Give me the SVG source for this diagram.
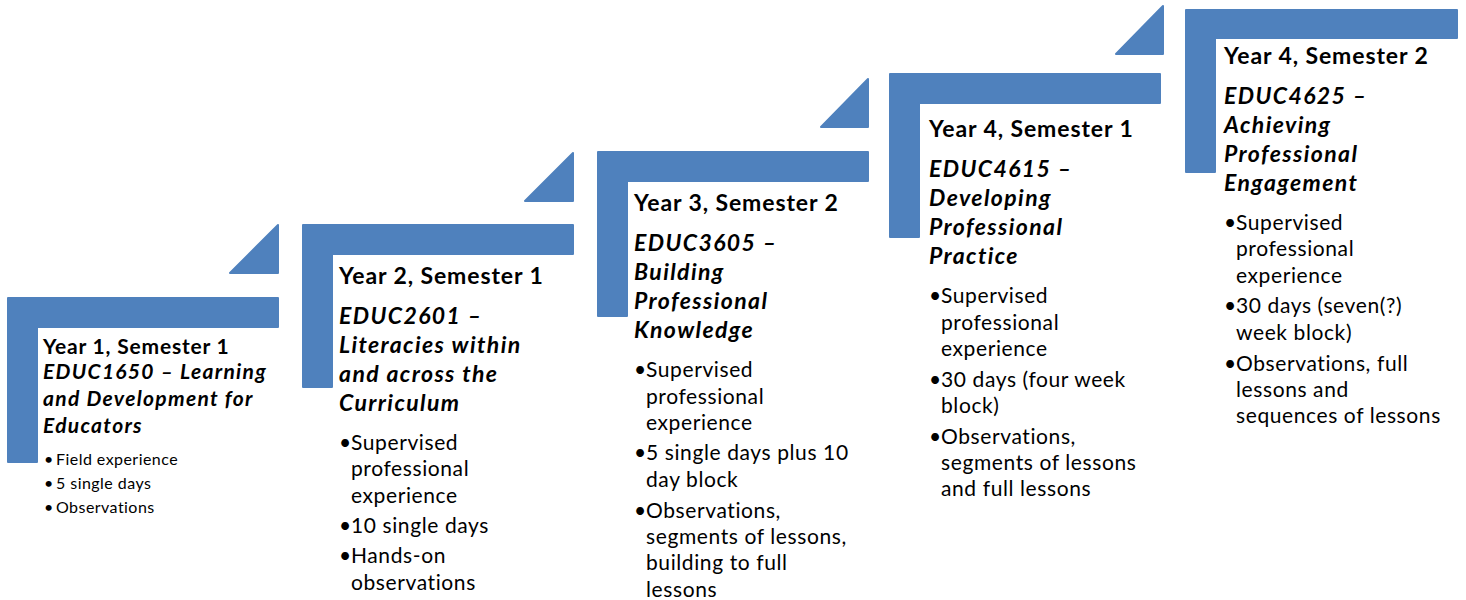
<svg xmlns="http://www.w3.org/2000/svg" width="1466" height="600" viewBox="0 0 1466 600">
<style>
.shape{fill:#4F81BD;stroke:#4F81BD;stroke-width:2;stroke-linejoin:round}
text{font-family:Lato,"Open Sans","Liberation Sans",sans-serif;fill:#000}
.h{font-size:23px;font-weight:bold;letter-spacing:0.9px}
.i{font-size:23px;font-weight:bold;font-style:italic;letter-spacing:1.4px}
.b{font-size:21px;letter-spacing:0.6px}
.h1{font-size:21px;font-weight:bold;letter-spacing:0.8px}
.i1{font-size:21px;font-weight:bold;font-style:italic;letter-spacing:1.3px}
.b1{font-size:16px;letter-spacing:0.45px}
</style>
<rect width="1466" height="600" fill="#fff"/>
<g id="step1">
<path class="shape" d="M8,298 H278 V327 H37 V462 H8 Z"/>
<path class="shape" d="M230,273 L278,225 V273 Z"/>
<text class="h1" x="43" y="354">Year 1, Semester 1</text>
<text class="i1" x="43" y="379">EDUC1650 – Learning</text>
<text class="i1" x="43" y="406">and Development for</text>
<text class="i1" x="43" y="433">Educators</text>
<text class="b1" x="44" y="465">•</text><text class="b1" x="56" y="465">Field experience</text>
<text class="b1" x="44" y="489">•</text><text class="b1" x="56" y="489">5 single days</text>
<text class="b1" x="44" y="513">•</text><text class="b1" x="56" y="513">Observations</text>
</g>
<g id="step2">
<path class="shape" d="M303,225 H573 V254 H332 V387 H303 Z"/>
<path class="shape" d="M525,201 L573,153 V201 Z"/>
<text class="h" x="339" y="284">Year 2, Semester 1</text>
<text class="i" x="339" y="324">EDUC2601 –</text>
<text class="i" x="339" y="353">Literacies within</text>
<text class="i" x="339" y="382">and across the</text>
<text class="i" x="339" y="411">Curriculum</text>
<text class="b" x="339" y="450">•</text><text class="b" x="351" y="450">Supervised</text>
<text class="b" x="351" y="476">professional</text>
<text class="b" x="351" y="503">experience</text>
<text class="b" x="339" y="533">•</text><text class="b" x="351" y="533">10 single days</text>
<text class="b" x="339" y="563">•</text><text class="b" x="351" y="563">Hands-on</text>
<text class="b" x="351" y="590">observations</text>
</g>
<g id="step3">
<path class="shape" d="M598,152 H868 V181 H627 V316 H598 Z"/>
<path class="shape" d="M821,127 L868,79 V127 Z"/>
<text class="h" x="634" y="211">Year 3, Semester 2</text>
<text class="i" x="634" y="251">EDUC3605 –</text>
<text class="i" x="634" y="280">Building</text>
<text class="i" x="634" y="309">Professional</text>
<text class="i" x="634" y="338">Knowledge</text>
<text class="b" x="634" y="377">•</text><text class="b" x="646" y="377">Supervised</text>
<text class="b" x="646" y="404">professional</text>
<text class="b" x="646" y="430">experience</text>
<text class="b" x="634" y="460">•</text><text class="b" x="646" y="460">5 single days plus 10</text>
<text class="b" x="646" y="487">day block</text>
<text class="b" x="634" y="518">•</text><text class="b" x="646" y="518">Observations,</text>
<text class="b" x="646" y="544">segments of lessons,</text>
<text class="b" x="646" y="570">building to full</text>
<text class="b" x="646" y="597">lessons</text>
</g>
<g id="step4">
<path class="shape" d="M890,74 H1160 V103 H919 V237 H890 Z"/>
<path class="shape" d="M1116,54 L1163,6 V54 Z"/>
<text class="h" x="929" y="137">Year 4, Semester 1</text>
<text class="i" x="929" y="177">EDUC4615 –</text>
<text class="i" x="929" y="206">Developing</text>
<text class="i" x="929" y="235">Professional</text>
<text class="i" x="929" y="264">Practice</text>
<text class="b" x="929" y="303">•</text><text class="b" x="941" y="303">Supervised</text>
<text class="b" x="941" y="330">professional</text>
<text class="b" x="941" y="356">experience</text>
<text class="b" x="929" y="387">•</text><text class="b" x="941" y="387">30 days (four week</text>
<text class="b" x="941" y="413">block)</text>
<text class="b" x="929" y="444">•</text><text class="b" x="941" y="444">Observations,</text>
<text class="b" x="941" y="470">segments of lessons</text>
<text class="b" x="941" y="496">and full lessons</text>
</g>
<g id="step5">
<path class="shape" d="M1186,10 H1457 V38 H1215 V172 H1186 Z"/>
<text class="h" x="1224" y="64">Year 4, Semester 2</text>
<text class="i" x="1224" y="104">EDUC4625 –</text>
<text class="i" x="1224" y="133">Achieving</text>
<text class="i" x="1224" y="162">Professional</text>
<text class="i" x="1224" y="191">Engagement</text>
<text class="b" x="1224" y="230">•</text><text class="b" x="1236" y="230">Supervised</text>
<text class="b" x="1236" y="256">professional</text>
<text class="b" x="1236" y="283">experience</text>
<text class="b" x="1224" y="313">•</text><text class="b" x="1236" y="313">30 days (seven(?)</text>
<text class="b" x="1236" y="340">week block)</text>
<text class="b" x="1224" y="371">•</text><text class="b" x="1236" y="371">Observations, full</text>
<text class="b" x="1236" y="397">lessons and</text>
<text class="b" x="1236" y="423">sequences of lessons</text>
</g>
<g id="connectors"></g>
</svg>
